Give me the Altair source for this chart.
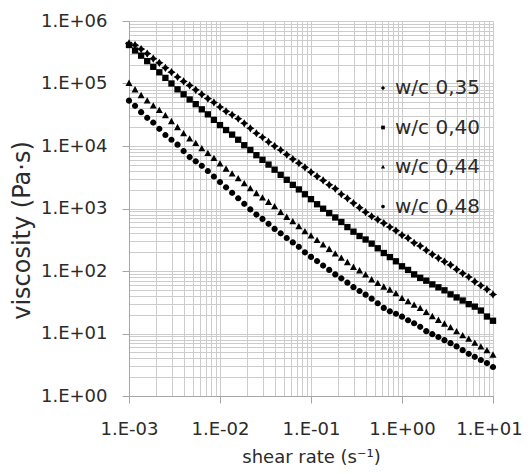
import altair as alt
import pandas as pd

series_names = ["w/c 0,35", "w/c 0,40", "w/c 0,44", "w/c 0,48"]

shear_rate = [
    1.000e-3, 1.166e-3, 1.359e-3, 1.585e-3, 1.848e-3, 2.154e-3, 2.512e-3, 2.929e-3, 3.415e-3, 3.981e-3,
    4.642e-3, 5.412e-3, 6.310e-3, 7.356e-3, 8.577e-3,
    1.000e-2, 1.166e-2, 1.359e-2, 1.585e-2, 1.848e-2, 2.154e-2, 2.512e-2, 2.929e-2, 3.415e-2, 3.981e-2,
    4.642e-2, 5.412e-2, 6.310e-2, 7.356e-2, 8.577e-2,
    1.000e-1, 1.166e-1, 1.359e-1, 1.585e-1, 1.848e-1, 2.154e-1, 2.512e-1, 2.929e-1, 3.415e-1, 3.981e-1,
    4.642e-1, 5.412e-1, 6.310e-1, 7.356e-1, 8.577e-1,
    1.000e0, 1.166e0, 1.359e0, 1.585e0, 1.848e0, 2.154e0, 2.512e0, 2.929e0, 3.415e0, 3.981e0,
    4.642e0, 5.412e0, 6.310e0, 7.356e0, 8.577e0,
    1.000e1,
]

wc035 = [4.37e5, 4.10e5, 3.55e5, 3.01e5, 2.50e5, 2.14e5, 1.78e5, 1.52e5, 1.27e5, 1.08e5,
         9.33e4, 7.91e4, 6.71e4, 5.73e4, 4.97e4, 4.21e4, 3.59e4, 3.16e4, 2.73e4, 2.31e4,
         1.92e4, 1.60e4, 1.38e4, 1.16e4, 9.96e3, 8.63e3, 7.28e3, 6.17e3, 5.32e3, 4.55e3,
         3.82e3, 3.27e3, 2.81e3, 2.39e3, 2.08e3, 1.69e3, 1.45e3, 1.22e3, 1.03e3, 873,
         750, 664, 583, 506, 442, 375, 335, 282, 252, 215,
         185, 161, 141, 125, 106, 91.8, 80.2, 67.6, 58.6, 50.8,
         42.1]

wc040 = [4.13e5, 3.37e5, 2.79e5, 2.28e5, 1.85e5, 1.51e5, 1.23e5, 1.00e5, 8.07e4, 6.71e4,
         5.55e4, 4.67e4, 3.86e4, 3.21e4, 2.62e4, 2.16e4, 1.80e4, 1.52e4, 1.26e4, 1.03e4,
         8.63e3, 7.13e3, 6.01e3, 5.04e3, 4.18e3, 3.45e3, 2.88e3, 2.39e3, 2.02e3, 1.69e3,
         1.41e3, 1.17e3, 993, 843, 718, 608, 504, 426, 363, 319,
         274, 231, 194, 167, 143, 119, 104, 88.3, 77.8, 70.0,
         61.1, 54.8, 49.1, 42.3, 37.8, 33.7, 29.5, 26.9, 23.3, 18.7,
         16.0]

wc044 = [1.01e5, 7.96e4, 6.43e4, 5.28e4, 4.39e4, 3.72e4, 3.06e4, 2.47e4, 1.98e4, 1.58e4,
         1.30e4, 1.10e4, 9.06e3, 7.62e3, 6.35e3, 5.19e3, 4.29e3, 3.59e3, 3.00e3, 2.51e3,
         2.08e3, 1.74e3, 1.48e3, 1.26e3, 1.07e3, 867, 726, 617, 515, 427,
         366, 309, 262, 223, 188, 161, 137, 115, 101, 86.7,
         72.6, 63.5, 55.5, 49.7, 43.6, 36.6, 32.3, 28.4, 25.2, 21.8,
         18.7, 16.3, 14.2, 12.4, 10.7, 9.25, 8.11, 7.00, 6.11, 5.32,
         4.53]

wc048 = [5.31e4, 4.39e4, 3.48e4, 2.82e4, 2.37e4, 1.88e4, 1.50e4, 1.26e4, 1.05e4, 8.28e3,
         6.64e3, 5.68e3, 4.81e3, 3.98e3, 3.25e3, 2.65e3, 2.18e3, 1.78e3, 1.46e3, 1.19e3,
         968, 798, 682, 568, 472, 401, 337, 287, 244, 199,
         168, 144, 122, 104, 88.3, 76.4, 65.0, 55.1, 47.9, 41.8,
         36.1, 30.5, 25.7, 22.6, 20.7, 18.6, 16.3, 14.6, 12.8, 10.9,
         9.75, 8.79, 7.83, 7.01, 6.22, 5.41, 4.73, 4.23, 3.77, 3.36,
         2.91]

x_grid_values = [m * 10.0 ** k for k in range(-3, 1) for m in range(1, 10)] + [10.0]
y_grid_values = [m * 10.0 ** k for k in range(0, 6) for m in range(1, 10)] + [1e6]

rows = []
for name, vals in zip(series_names, [wc035, wc040, wc044, wc048]):
    for x, v in zip(shear_rate, vals):
        rows.append({"rate": x, "viscosity": v, "series": name})
df = pd.DataFrame(rows)

FONT = "DejaVu Sans"
TXT = "#2b2b2b"
GRID = "#cccccc"

is_decade = "abs(log(datum.value)/LN10 - round(log(datum.value)/LN10)) < 0.001"
label_expr = (is_decade + " ? '1.E' + (round(log(datum.value)/LN10) < 0 ? '-' : '+') + '0' + "
              "abs(round(log(datum.value)/LN10)) : ''")
tick_op = {"condition": {"test": is_decade, "value": 1}, "value": 0}
last_x_shift = {"condition": {"test": "datum.value >= 9.99", "value": -4}, "value": 0}

star_path = "M0,-1.3L0.5,-0.5L1.3,0L0.5,0.5L0,1.3L-0.5,0.5L-1.3,0L-0.5,-0.5Z"
square_path = "M-1,-1L1,-1L1,1L-1,1Z"
triangle_path = "M0,-1.15L1.1,0.85L-1.1,0.85Z"
circle_path = "M0.98,0A0.98,0.98 0 1,1 -0.98,0A0.98,0.98 0 1,1 0.98,0Z"

chart = alt.Chart(df).mark_point(filled=True, opacity=1, strokeWidth=0, size=40).encode(
    x=alt.X("rate:Q",
            scale=alt.Scale(type="log", domain=[1e-3, 10], nice=False),
            axis=alt.Axis(values=x_grid_values, labelExpr=label_expr, labelOverlap=False,
                          labelFlush=False, title="shear rate (s⁻¹)", grid=True,
                          gridColor=GRID, tickColor="#a6a6a6", tickSize=7, tickOpacity=tick_op,
                          domainColor="#a6a6a6", labelFont=FONT, labelFontSize=18,
                          labelColor=TXT, labelPadding=17, labelOffset=last_x_shift,
                          titleFont=FONT, titleFontSize=18,
                          titleFontWeight="normal", titleColor=TXT, titleBaseline="top",
                          titleY=52)),
    y=alt.Y("viscosity:Q",
            scale=alt.Scale(type="log", domain=[1, 1e6], nice=False),
            axis=alt.Axis(values=y_grid_values, labelExpr=label_expr, labelOverlap=False,
                          labelFlush=False, title="viscosity (Pa·s)", grid=True,
                          gridColor=GRID, tickColor="#a6a6a6", tickSize=7, tickOpacity=tick_op,
                          domainColor="#a6a6a6", labelFont=FONT, labelFontSize=18,
                          labelColor=TXT, labelPadding=15, titleFont=FONT, titleFontSize=24,
                          titleFontWeight="normal", titleColor=TXT, titleBaseline="bottom",
                          titleX=-95, titleY=209)),
    shape=alt.Shape("series:N",
                    scale=alt.Scale(domain=series_names,
                                    range=[star_path, square_path, triangle_path, circle_path]),
                    legend=alt.Legend(title=None, orient="none", legendX=244, legendY=57,
                                      padding=0, rowPadding=19.5, symbolSize=14,
                                      symbolFillColor="black", symbolStrokeWidth=0,
                                      labelFont=FONT, labelFontSize=20, labelColor=TXT,
                                      labelOffset=2, labelLimit=200)),
    color=alt.value("black"),
    order=alt.Order("series:N"),
).properties(
    width=364,
    height=375,
    autosize=alt.AutoSizeParams(type="none"),
    padding={"left": 121, "top": 13, "right": 30, "bottom": 70},
).configure_view(stroke=None)

chart.save("out.html", embed_options={"renderer": "svg", "actions": False})
